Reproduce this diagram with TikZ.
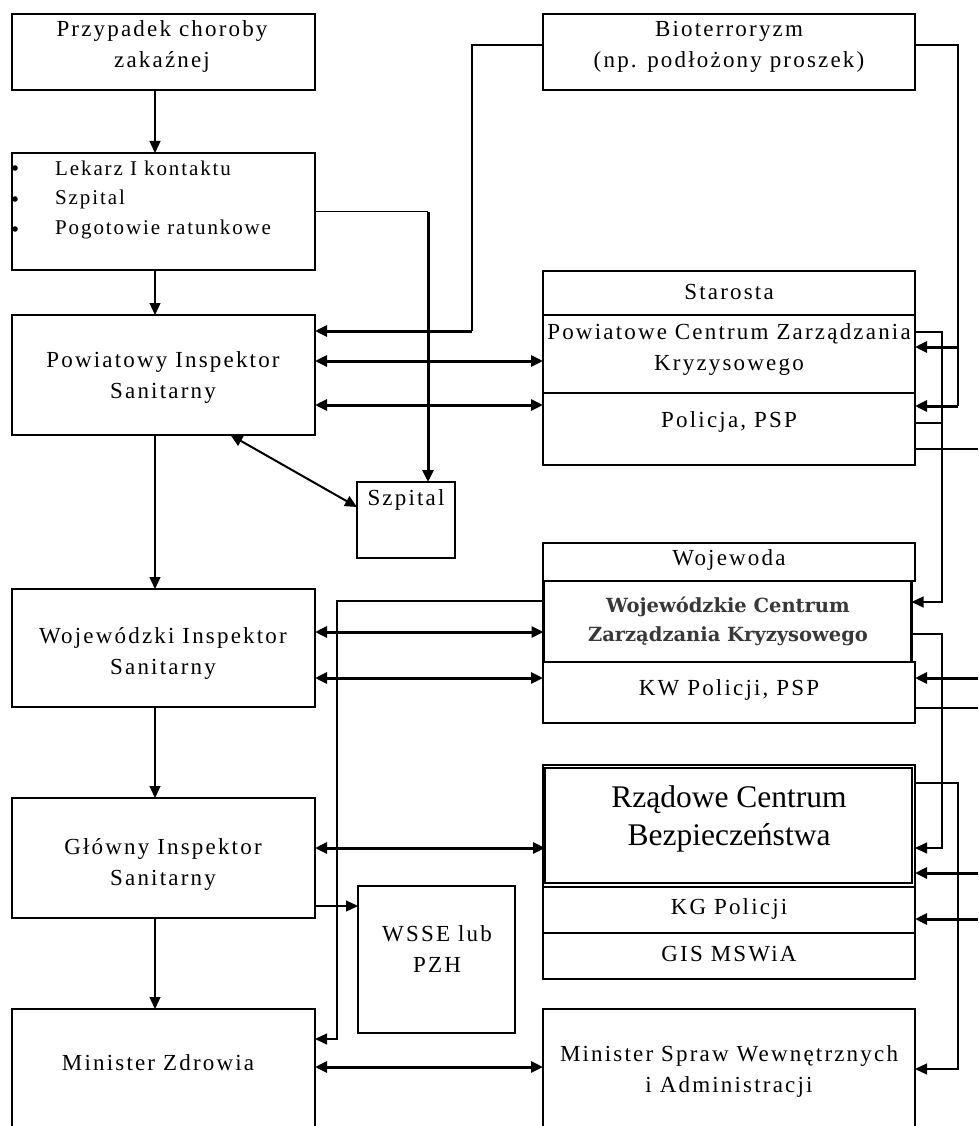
\documentclass[tikz,border=0pt]{standalone}
\usepackage{fontspec}
\usetikzlibrary{arrows.meta}
\setmainfont{Liberation Serif}
\newfontfamily\lbf[LetterSpace=9.5]{Liberation Serif}
\newfontfamily\lbs[LetterSpace=9]{Liberation Serif}
\newfontfamily\bdf{DejaVu Serif}
\newcommand{\lbfont}{\lbf\fontsize{23}{31}\selectfont}
\newcommand{\lbsfont}{\lbs\fontsize{21}{30}\selectfont}
\begin{document}
\begin{tikzpicture}[x=1pt,y=-1pt,
  box/.style={draw, line width=1.3pt, inner sep=0pt, outer sep=0pt},
  lbl/.style={font=\lbfont, align=center, inner sep=0pt},
  lbs/.style={font=\lbsfont, anchor=west, inner sep=0pt},
  conn/.style={line width=1.3pt},
  thk/.style={line width=3pt},
  tip/.style={-{Triangle[length=12pt,width=11pt]}},
  dbl/.style={line width=3pt, {Triangle[length=12pt,width=11pt]}-{Triangle[length=12pt,width=11pt]}},
]
\useasboundingbox (0,0) rectangle (978,1126);
\clip (0,0) rectangle (978,1126);
% ---------- left column ----------
\node[box, minimum width=303pt, minimum height=76pt]  (b1)  at (163.5,52) {};
\node[box, minimum width=303pt, minimum height=117pt] (b2)  at (163.5,211.5) {};
\node[box, minimum width=303pt, minimum height=120pt] (pis) at (163.5,375) {};
\node[box, minimum width=303pt, minimum height=118pt] (wis) at (163.5,648) {};
\node[box, minimum width=303pt, minimum height=120pt] (gis) at (163.5,858) {};
\node[box, minimum width=303pt, minimum height=131pt] (mz)  at (163.5,1074.5) {};
\node[box, minimum width=98pt, minimum height=76pt]   (szp) at (406,520) {};
\node[box, minimum width=157pt, minimum height=147pt] (wsse) at (436.5,959.5) {};
% ---------- right column ----------
\node[box, minimum width=372pt, minimum height=76pt] (bio) at (729,52) {};
\node[box, minimum width=372pt, minimum height=44pt] (sta) at (729,293) {};
\node[box, minimum width=372pt, minimum height=78pt] (pcz) at (729,354) {};
\node[box, minimum width=372pt, minimum height=72pt] (pol) at (729,429) {};
\node[box, minimum width=372pt, minimum height=38pt] (woj) at (729,562) {};
\node[box, minimum width=372pt, minimum height=61pt] (kwp) at (729,692.5) {};
\node[draw, line width=2.4pt, inner sep=0pt, outer sep=0pt, minimum width=368pt, minimum height=81pt] (wcz) at (727.5,621.5) {};
\node[box, minimum width=372pt, minimum height=214pt] (rgrp) at (729,872) {};
\node[draw, line width=2.4pt, inner sep=0pt, outer sep=0pt, minimum width=367pt, minimum height=115pt] (rcb) at (728.5,825.5) {};
\node[box, minimum width=372pt, minimum height=46pt] (kgp) at (729,910) {};
\node[box, minimum width=372pt, minimum height=46pt] (gism) at (729,956) {};
\node[box, minimum width=372pt, minimum height=131pt] (msw) at (729,1074.5) {};
% ---------- texts ----------
\node[lbl] (t1) at (162,46) {Przypadek choroby\\zakaźnej};
\node[lbs] (t2a) at (55,168) {Lekarz I kontaktu};
\node[lbs] (t2b) at (55,199) {Szpital};
\node[lbs] (t2c) at (55,229) {Pogotowie ratunkowe};
\fill (15,168) circle (2.8);
\fill (15,199) circle (2.8);
\fill (15,229) circle (2.8);
\node[lbl] (t3) at (163,377) {Powiatowy Inspektor\\Sanitarny};
\node[lbl] (t4) at (163,653) {Wojewódzki Inspektor\\Sanitarny};
\node[lbl] (t5) at (163,864) {Główny Inspektor\\Sanitarny};
\node[lbl] (t6) at (158,1063) {Minister Zdrowia};
\node[lbl] (tszp) at (406,500) {Szpital};
\node[lbl] (twsse) at (437,949) {WSSE lub\\PZH};
\node[lbl] (tbio) at (729,47) {Bioterroryzm\\(np. podłożony proszek)};
\node[lbl] (tsta) at (729,292) {Starosta};
\node[lbl] (tpcz) at (729,349) {Powiatowe Centrum Zarządzania\\Kryzysowego};
\node[lbl] (tpol) at (729,422) {Policja, PSP};
\node[lbl] (twoj) at (729,560) {Wojewoda};
\node[align=center, inner sep=0pt, text=black!78, font={\bdf\bfseries\fontsize{19.5}{29}\selectfont}] (twcz) at (728,621) {Wojewódzkie Centrum\\Zarządzania Kryzysowego};
\node[lbl] (tkwp) at (729,690) {KW Policji, PSP};
\node[align=center, inner sep=0pt, font={\fontsize{31.5}{38}\selectfont}] (trcb) at (729,819) {Rządowe Centrum\\Bezpieczeństwa};
\node[lbl] (tkgp) at (729,909) {KG Policji};
\node[lbl] (tgis) at (729,954) {GIS MSWiA};
\node[lbl] (tmsw) at (729,1071) {Minister Spraw Wewnętrznych\\i Administracji};
% ---------- helper coordinates ----------
\coordinate (xa) at (155,0);
\coordinate (k1) at (428,211.5);
\coordinate (k2a) at (472,45);
\coordinate (k2b) at (472,331);
\coordinate (y361) at (0,361);
\coordinate (y405) at (0,405);
\coordinate (y632) at (0,632);
\coordinate (y678) at (0,678);
\coordinate (y848) at (0,848);
\coordinate (y906) at (0,906);
\coordinate (y1067) at (0,1067);
\coordinate (k3a) at (337,601);
\coordinate (k3b) at (337,1039);
\coordinate (r1a) at (958,45);
\coordinate (r1b) at (958,347);
\coordinate (r1c) at (958,406);
\coordinate (r2a) at (942,332);
\coordinate (r2b) at (942,602);
\coordinate (r2c) at (942,423);
\coordinate (r3a) at (942,634);
\coordinate (r3b) at (942,848);
\coordinate (r4a) at (958,783);
\coordinate (r4b) at (958,1069);
\coordinate (e449) at (978,449);
\coordinate (e678) at (978,678);
\coordinate (e708) at (978,708);
\coordinate (e873) at (978,873);
\coordinate (e919) at (978,919);
% ---------- left column arrows ----------
\draw[conn,tip] (xa |- b1.south) -- (xa |- b2.north);
\draw[conn,tip] (xa |- b2.south) -- (xa |- pis.north);
\draw[conn,tip] (xa |- pis.south) -- (xa |- wis.north);
\draw[conn,tip] (xa |- wis.south) -- (xa |- gis.north);
\draw[conn,tip] (xa |- gis.south) -- (xa |- mz.north);
% Lekarz -> Szpital
\draw[conn] (b2.east) -- (k1);
\draw[thk,tip] (k1) -- (k1 |- szp.north);
% Powiatowy <-> Szpital
\draw[line width=2pt, {Triangle[length=12pt,width=11pt]}-{Triangle[length=12pt,width=11pt]}] ([xshift=67pt]pis.south) -- ([yshift=13pt]szp.west);
% Bioterroryzm -> Powiatowy
\draw[conn] (bio.west |- k2a) -- (k2a) -- (k2b);
\draw[thk,tip] (k2b) -- (pis.east |- k2b);
% horizontal double arrows
\draw[dbl] (pis.east |- y361) -- (pcz.west |- y361);
\draw[dbl] (pis.east |- y405) -- (pol.west |- y405);
\draw[dbl] (wis.east |- y632) -- (wcz.west |- y632);
\draw[dbl] (wis.east |- y678) -- (kwp.west |- y678);
\draw[dbl] (gis.east |- y848) -- (rcb.west |- y848);
\draw[dbl] (mz.east |- y1067) -- (msw.west |- y1067);
% Glowny -> WSSE
\draw[conn,tip] (gis.east |- y906) -- (wsse.west |- y906);
% WCZ -> Minister Zdrowia
\draw[conn,tip] (wcz.west |- k3a) -- (k3a) -- (k3b) -- (mz.east |- k3b);
% ---------- right side ----------
\draw[conn] (bio.east |- r1a) -- (r1a) -- (r1c);
\draw[thk,tip] (r1b) -- (pcz.east |- r1b);
\draw[thk,tip] (r1c) -- (pol.east |- r1c);
\draw[conn,tip] (pcz.east |- r2a) -- (r2a) -- (r2b) -- (wcz.east |- r2b);
\draw[conn] (pol.east |- r2c) -- (r2c);
\draw[conn] (pol.east |- e449) -- (e449);
\draw[conn,tip] (wcz.east |- r3a) -- (r3a) -- (r3b) -- (rgrp.east |- r3b);
\draw[thk,tip] (e678) -- (kwp.east |- e678);
\draw[conn] (kwp.east |- e708) -- (e708);
\draw[conn,tip] (rgrp.east |- r4a) -- (r4a) -- (r4b) -- (msw.east |- r4b);
\draw[thk,tip] (e873) -- (rgrp.east |- e873);
\draw[thk,tip] (e919) -- (kgp.east |- e919);
\end{tikzpicture}
\end{document}
